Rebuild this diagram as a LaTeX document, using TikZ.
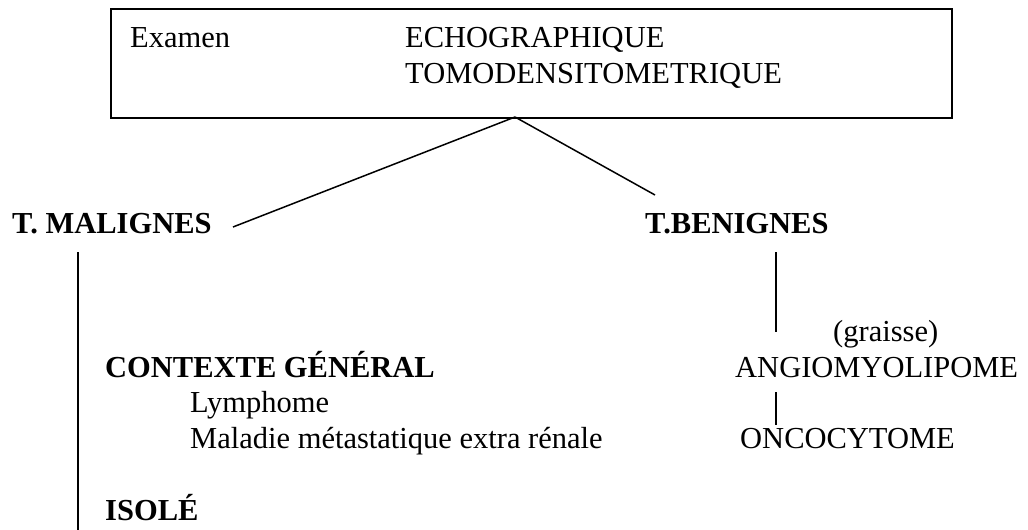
\documentclass[tikz,border=0pt]{standalone}
\usepackage{fontspec}
\setmainfont{Liberation Serif}
\begin{document}
\begin{tikzpicture}[x=1pt,y=-1pt,
  txt/.style={inner sep=0pt, anchor=base west, font=\fontsize{30.5}{36.6}\selectfont},
  btxt/.style={txt, font=\fontsize{30.5}{36.6}\selectfont\bfseries},
  conn/.style={line width=1.5pt, black},
  framebox/.style={draw, line width=2pt, inner sep=0pt, anchor=north west, minimum width=841pt, minimum height=109pt}]
\useasboundingbox (0,0) rectangle (1028,530);
\node[framebox] (box) at (110,8) {};
\node[txt] (examen) at (130,47) {Examen};
\node[txt] (echo) at (405,47) {ECHOGRAPHIQUE};
\node[txt] (tomo) at (405,83) {TOMODENSITOMETRIQUE};
\node[btxt] (malig) at (12,233) {T. MALIGNES};
\node[btxt] (benig) at (645,233) {T.BENIGNES};
\node[btxt] (ctx) at (105,377) {CONTEXTE GÉNÉRAL};
\node[txt] (lymph) at (190,412) {Lymphome};
\node[txt] (mala) at (190,448) {Maladie métastatique extra rénale};
\node[btxt] (isole) at (105,520) {ISOLÉ};
\node[txt] (graisse) at (833,341) {(graisse)};
\node[txt] (angio) at (735,377) {ANGIOMYOLIPOME};
\node[txt] (onco) at (740,448) {ONCOCYTOME};
\coordinate (apex) at (515,117);
\coordinate (lend) at (233,227);
\coordinate (rend) at (655,195);
\coordinate (mtop) at (78,252);
\coordinate (mbot) at (78,530);
\coordinate (btop) at (776,252);
\coordinate (bbot) at (776,332);
\coordinate (atop) at (776,392);
\coordinate (abot) at (776,425);
\draw[conn] (apex) -- (lend);
\draw[conn] (apex) -- (rend);
\draw[conn] (mtop) -- (mbot);
\draw[conn] (btop) -- (bbot);
\draw[conn] (atop) -- (abot);
\end{tikzpicture}
\end{document}
